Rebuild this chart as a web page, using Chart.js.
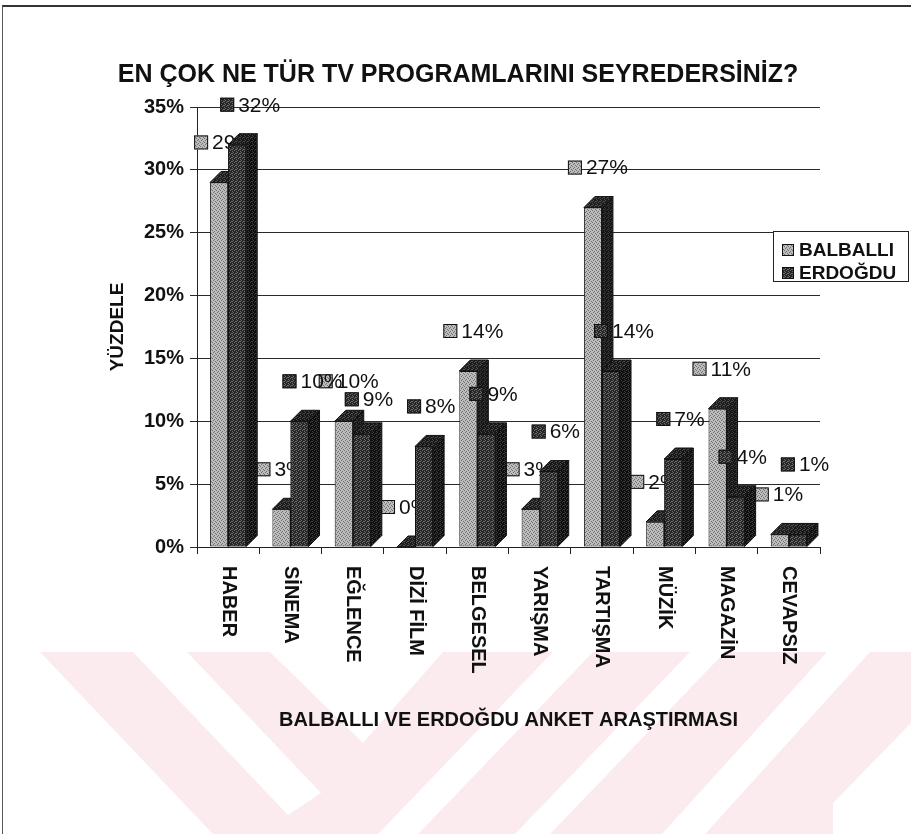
<!DOCTYPE html>
<html lang="tr">
<head>
<meta charset="utf-8">
<title>EN ÇOK NE TÜR TV PROGRAMLARINI SEYREDERSİNİZ?</title>
<script src="https://cdn.jsdelivr.net/npm/chart.js@4.4.1/dist/chart.umd.min.js"></script>
<style>
  html, body { margin: 0; padding: 0; background: #fff; }
  #wrap { position: relative; width: 911px; height: 834px; overflow: hidden; }
  #bg { position: absolute; left: 0; top: 0; }
  #frame { position: absolute; left: 2px; top: 5px; width: 920px; height: 840px;
           border-top: 2px solid #333; border-left: 1px solid #555; }
  #tvChart { position: absolute; left: 0; top: 0; }
</style>
</head>
<body>
<div id="wrap">
  <!-- faint watermark stripes behind the chart -->
  <svg id="bg" width="911" height="834">
    <rect x="0" y="652" width="911" height="182" fill="#fcebee"/>
    <g fill="#fff">
      <polygon points="0,652 40,652 213,834 0,834"/>
      <polygon points="133,652 187,652 321,793 288,815"/>
      <polygon points="270,652 443,652 363,743"/>
      <polygon points="553,652 593,652 418,834 378,834"/>
      <polygon points="690,652 725,652 550,834 515,834"/>
      <polygon points="827,652 870,652 705,834 662,834"/>
      <polygon points="911,723 833,803 833,834 911,834"/>
    </g>
  </svg>
  <div id="frame"></div>
  <canvas id="tvChart" width="911" height="834"></canvas>
</div>
<script>
const categories = ['HABER', 'SİNEMA', 'EĞLENCE', 'DİZİ FİLM', 'BELGESEL', 'YARIŞMA', 'TARTIŞMA', 'MÜZİK', 'MAGAZİN', 'CEVAPSIZ'];
const balballi = [29, 3, 10, 0, 14, 3, 27, 2, 11, 1];
const erdogdu = [32, 10, 9, 8, 9, 6, 14, 7, 4, 1];
const yTicks = [0, 5, 10, 15, 20, 25, 30, 35];

const FONT = "'Liberation Sans', Arial, sans-serif";
const DEPTH = 11;

// small dithered tiles so the faces look like the printed grey fills
function stipple(light, dark, map) {
  const c = document.createElement('canvas');
  c.width = c.height = 4;
  const g = c.getContext('2d');
  map.forEach((v, i) => {
    g.fillStyle = v ? dark : light;
    g.fillRect(i % 4, Math.floor(i / 4), 1, 1);
  });
  return g.createPattern(c, 'repeat');
}
const dotsA = [0,1,0,0, 0,0,0,1, 1,0,0,0, 0,0,1,0];
const dotsB = [1,0,1,1, 0,1,1,0, 1,1,0,1, 0,1,1,1];

const fills = {
  balballi: {
    front: stipple('#bdbdbd', '#6e6e6e', dotsA),
    top: stipple('#505050', '#1c1c1c', dotsB),
    side: stipple('#3a3a3a', '#151515', dotsB)
  },
  erdogdu: {
    front: stipple('#6e6e6e', '#262626', dotsB),
    top: stipple('#4a4a4a', '#161616', dotsB),
    side: stipple('#3c3c3c', '#0e0e0e', dotsB)
  }
};

function drawFaces(ctx, bar, f) {
  const p = bar.getProps(['x', 'y', 'base', 'width'], true);
  const l = p.x - p.width / 2, r = p.x + p.width / 2;
  ctx.save();
  ctx.strokeStyle = '#111';
  ctx.lineWidth = 1;
  ctx.fillStyle = f.top;
  ctx.beginPath();
  ctx.moveTo(l, p.y);
  ctx.lineTo(l + DEPTH, p.y - DEPTH);
  ctx.lineTo(r + DEPTH, p.y - DEPTH);
  ctx.lineTo(r, p.y);
  ctx.closePath();
  ctx.fill();
  ctx.stroke();
  ctx.fillStyle = f.side;
  ctx.beginPath();
  ctx.moveTo(r, p.y);
  ctx.lineTo(r + DEPTH, p.y - DEPTH);
  ctx.lineTo(r + DEPTH, p.base - DEPTH);
  ctx.lineTo(r, p.base);
  ctx.closePath();
  ctx.fill();
  ctx.stroke();
  ctx.restore();
}

function drawKey(ctx, x, y, size, fill) {
  ctx.fillStyle = fill;
  ctx.fillRect(x, y, size, size);
  ctx.strokeStyle = '#111';
  ctx.lineWidth = 1;
  ctx.strokeRect(x + 0.5, y + 0.5, size - 1, size - 1);
}

// where each value label goes: above the column, nudged when the two
// labels of one category would sit on top of each other
function labelSpots(chart) {
  const a = chart.getDatasetMeta(0).data;
  const b = chart.getDatasetMeta(1).data;
  return a.map((bar, i) => {
    const first = { x: bar.x - 18, y: bar.y - 40 };
    const second = { x: b[i].x - 10, y: b[i].y - 40 };
    if (Math.abs(second.y - first.y) < 18) {
      second.y = second.y > first.y ? first.y + 18 : first.y - 30;
    }
    return [first, second];
  });
}

function drawValueLabels(chart, dsIndex, f) {
  const ctx = chart.ctx;
  const values = chart.data.datasets[dsIndex].data;
  const spots = labelSpots(chart);
  ctx.save();
  ctx.font = '21px ' + FONT;
  ctx.textBaseline = 'middle';
  ctx.textAlign = 'left';
  spots.forEach((pair, i) => {
    const s = pair[dsIndex];
    drawKey(ctx, s.x - 7, s.y - 7, 14, f.front);
    ctx.fillStyle = '#111';
    ctx.fillText(values[i] + '%', s.x + 11, s.y + 1);
  });
  ctx.restore();
}

const bars3d = {
  id: 'bars3d',
  beforeDatasetsDraw(chart) {
    // BALBALLI labels sit behind the columns
    drawValueLabels(chart, 0, fills.balballi);
  },
  afterDatasetsDraw(chart) {
    const ctx = chart.ctx;
    const a = chart.getDatasetMeta(0).data;
    const b = chart.getDatasetMeta(1).data;
    a.forEach((bar, i) => {
      drawFaces(ctx, bar, fills.balballi);
      b[i].draw(ctx);
      drawFaces(ctx, b[i], fills.erdogdu);
    });
    drawValueLabels(chart, 1, fills.erdogdu);
  },
  afterDraw(chart) {
    const ctx = chart.ctx;
    const xs = chart.scales.x;
    // category names, turned to read downwards
    ctx.save();
    ctx.font = 'bold 20px ' + FONT;
    ctx.fillStyle = '#111';
    ctx.textAlign = 'left';
    ctx.textBaseline = 'middle';
    chart.data.labels.forEach((lab, i) => {
      ctx.save();
      ctx.translate(xs.getPixelForTick(i), chart.chartArea.bottom + 19);
      ctx.rotate(Math.PI / 2);
      ctx.fillText(lab, 0, 0);
      ctx.restore();
    });
    ctx.restore();

    // legend box overlapping the plot's right edge
    ctx.save();
    ctx.fillStyle = '#fff';
    ctx.fillRect(773, 231, 135, 50);
    ctx.strokeStyle = '#222';
    ctx.lineWidth = 1;
    ctx.strokeRect(773.5, 231.5, 135, 50);
    ctx.font = 'bold 19px ' + FONT;
    ctx.textBaseline = 'middle';
    ctx.textAlign = 'left';
    [fills.balballi, fills.erdogdu].forEach((f, i) => {
      const y = 250 + i * 23;
      drawKey(ctx, 782, y - 6, 12, f.front);
      ctx.fillStyle = '#111';
      ctx.fillText(chart.data.datasets[i].label, 799, y + 1);
    });
    ctx.restore();
  }
};

new Chart(document.getElementById('tvChart'), {
  type: 'bar',
  data: {
    labels: categories,
    datasets: [
      { label: 'BALBALLI', data: balballi, backgroundColor: fills.balballi.front,
        borderColor: '#111', borderWidth: 1, borderSkipped: false },
      { label: 'ERDOĞDU', data: erdogdu, backgroundColor: fills.erdogdu.front,
        borderColor: '#111', borderWidth: 1, borderSkipped: false }
    ]
  },
  options: {
    responsive: false,
    animation: false,
    devicePixelRatio: 1,
    layout: { padding: { top: 60, right: 91, bottom: 0, left: 96 } },
    datasets: { bar: { categoryPercentage: 0.58, barPercentage: 1.0 } },
    plugins: {
      legend: { display: false },
      tooltip: { enabled: false },
      title: {
        display: true,
        text: 'EN ÇOK NE TÜR TV PROGRAMLARINI SEYREDERSİNİZ?',
        color: '#111',
        font: { family: FONT, size: 25, weight: 'bold' },
        padding: { top: 0, bottom: 17 }
      }
    },
    scales: {
      x: {
        afterFit: s => { s.height = 287; },
        ticks: { display: false },
        grid: { drawOnChartArea: false, drawTicks: true, tickLength: 7, color: '#222', offset: true },
        border: { display: true, color: '#222', width: 1 },
        title: {
          display: true,
          text: 'BALBALLI VE ERDOĞDU ANKET ARAŞTIRMASI',
          color: '#111',
          font: { family: FONT, size: 20, weight: 'bold' },
          padding: { top: 0, bottom: 102 }
        }
      },
      y: {
        min: 0,
        max: 35,
        afterFit: s => { s.width = 101; },
        afterBuildTicks: s => { s.ticks = yTicks.map(v => ({ value: v })); },
        ticks: {
          callback: v => v + '%',
          color: '#111',
          padding: 6,
          font: { family: FONT, size: 20, weight: 'bold' }
        },
        grid: { color: '#2a2a2a', lineWidth: 1, tickLength: 7 },
        border: { display: true, color: '#222', width: 1 },
        title: {
          display: true,
          text: 'YÜZDELE',
          color: '#111',
          font: { family: FONT, size: 19, weight: 'bold' },
          padding: { top: 10, bottom: 0 }
        }
      }
    }
  },
  plugins: [bars3d]
});
</script>
</body>
</html>
